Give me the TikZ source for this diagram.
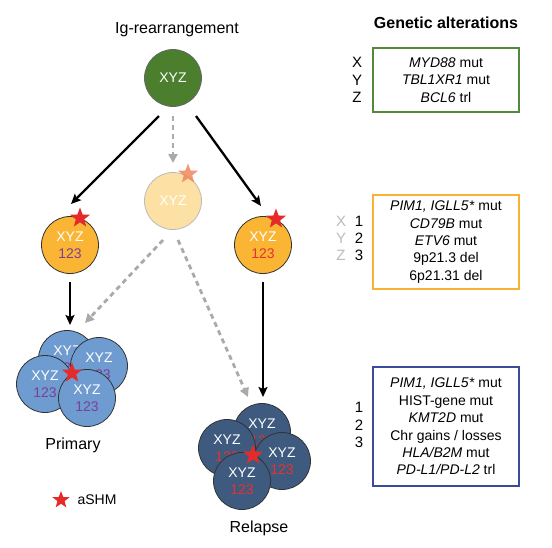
\documentclass[tikz,border=0pt]{standalone}
\usepackage{fontspec}
\setmainfont{Liberation Sans}
\usetikzlibrary{shapes.geometric,arrows.meta}
\definecolor{cgreen}{HTML}{4B7F2E}
\definecolor{bgreen}{HTML}{55893A}
\definecolor{corange}{HTML}{FBB535}
\definecolor{borange}{HTML}{F9B233}
\definecolor{cpale}{HTML}{FDE0A3}
\definecolor{clblue}{HTML}{6E9BD0}
\definecolor{cdblue}{HTML}{3E5A7F}
\definecolor{bblue}{HTML}{3C4A9C}
\definecolor{purp}{HTML}{7E3F98}
\definecolor{redt}{HTML}{E6312E}
\definecolor{starred}{HTML}{E52A2A}
\definecolor{starpale}{HTML}{F0865E}
\definecolor{dgray}{HTML}{AAAAAA}
\definecolor{lgray}{HTML}{BBBBBB}
\begin{document}
\begin{tikzpicture}[x=1pt,y=-1pt,
  cell/.style={circle, minimum size=57pt, inner sep=0pt, draw=black!80, line width=0.8pt,
    text=white, align=center, font=\fontsize{14}{17}\selectfont},
  ashm/.style={star, star points=5, star point ratio=2.4, minimum size=21pt, inner sep=0pt,
    fill=starred, draw=none},
  blk/.style={line width=2.3pt, -{Stealth[length=10pt,width=9pt,inset=2pt]}},
  gry/.style={line width=2.8pt, draw=dgray, dash pattern=on 5pt off 4pt,
    -{Triangle[length=9pt,width=9pt,fill=dgray]}},
  lbl/.style={inner sep=0pt, font=\fontsize{16}{19}\selectfont},
  gbox/.style={rectangle, line width=2.6pt, minimum width=146pt, inner sep=0pt,
    align=center, font=\fontsize{14}{17.4}\selectfont},
  col/.style={inner sep=0pt, align=center, font=\fontsize{15}{17.2}\selectfont}
]
\useasboundingbox[fill=white] (0,0) rectangle (552,547);

% titles
\node[lbl] (title) at (177,30) {Ig-rearrangement};
\node[lbl, font=\fontsize{16}{19}\selectfont\bfseries] (gen) at (446,23) {Genetic alterations};

% top cells
\node[cell, fill=cgreen, draw=black!60] (g) at (173,78) {XYZ};
\node[cell, fill=cpale, draw=lgray] (pale) at (173,201) {XYZ};
\node[ashm, fill=starpale, opacity=0.85] (spale) at (188,174) {};
\node[cell, fill=corange] (o1) at (70,245) {XYZ\\{\color{purp}123}};
\node[ashm] (s1) at (80,218) {};
\node[cell, fill=corange] (o2) at (263,245) {XYZ\\{\color{redt}123}};
\node[ashm] (s2) at (276,219) {};

% primary cluster
\node[cell, fill=clblue] (p1) at (67,359) {XYZ\\{\color{purp}123}};
\node[cell, fill=clblue] (p2) at (99,366) {XYZ\\{\color{purp}123}};
\node[cell, fill=clblue] (p3) at (45,384) {XYZ\\{\color{purp}123}};
\node[cell, fill=clblue] (p4) at (87,398) {XYZ\\{\color{purp}123}};
\node[ashm] (sp) at (72,373) {};
\node[lbl] (prim) at (73,445) {Primary};

% relapse cluster
\node[cell, fill=cdblue] (r1) at (262,432) {XYZ\\{\color{redt}123}};
\node[cell, fill=cdblue] (r2) at (227,448) {XYZ\\{\color{redt}123}};
\node[cell, fill=cdblue] (r3) at (282,461) {XYZ\\{\color{redt}123}};
\node[cell, fill=cdblue] (r4) at (242,481) {XYZ\\{\color{redt}123}};
\node[ashm] (sr) at (253,455) {};
\node[lbl] (rel) at (259,528) {Relapse};

% legend
\node[ashm, minimum size=18pt] (sleg) at (61,500) {};
\node[lbl, font=\fontsize{14}{17}\selectfont] (ashmt) at (97,500) {aSHM};

% connectors
\draw[blk] ([shift={(-14,38)}]g.center) -- ([shift={(1,-41)}]o1.center);
\draw[blk] ([shift={(23,38)}]g.center) -- ([shift={(-2,-39)}]o2.center);
\draw[gry] ([shift={(0,38)}]g.center) -- ([shift={(0,-38)}]pale.center);
\draw[blk] ([shift={(0,37)}]o1.center) -- ([shift={(3,-34)}]p1.center);
\draw[blk] ([shift={(0,37)}]o2.center) -- ([shift={(1,-35)}]r1.center);
\draw[gry] ([shift={(-10,39)}]pale.center) -- ([shift={(-14,-43)}]p2.center);
\draw[gry] ([shift={(5,39)}]pale.center) -- ([shift={(-14,-35)}]r1.center);

% boxes
\node[gbox, draw=bgreen, minimum height=64pt] (gb) at (446,80)
  {\textit{MYD88} mut\\\textit{TBL1XR1} mut\\\textit{BCL6} trl};
\node[gbox, draw=borange, minimum height=94pt] (ob) at (446,242)
  {\textit{PIM1, IGLL5*} mut\\\textit{CD79B} mut\\\textit{ETV6} mut\\9p21.3 del\\6p21.31 del};
\node[gbox, draw=bblue, minimum height=119pt] (bb) at (446,426.5)
  {\textit{PIM1, IGLL5*} mut\\HIST-gene mut\\\textit{KMT2D} mut\\Chr gains / losses\\\textit{HLA/B2M} mut\\\textit{PD-L1/PD-L2} trl};

% label columns
\node[col] (gl) at (357,80) {X\\Y\\Z};
\node[col, text=lgray] (olx) at (341,238.5) {X\\Y\\Z};
\node[col] (oln) at (359,238.5) {1\\2\\3};
\node[col] (bl) at (359,425) {1\\2\\3};
\end{tikzpicture}
\end{document}
